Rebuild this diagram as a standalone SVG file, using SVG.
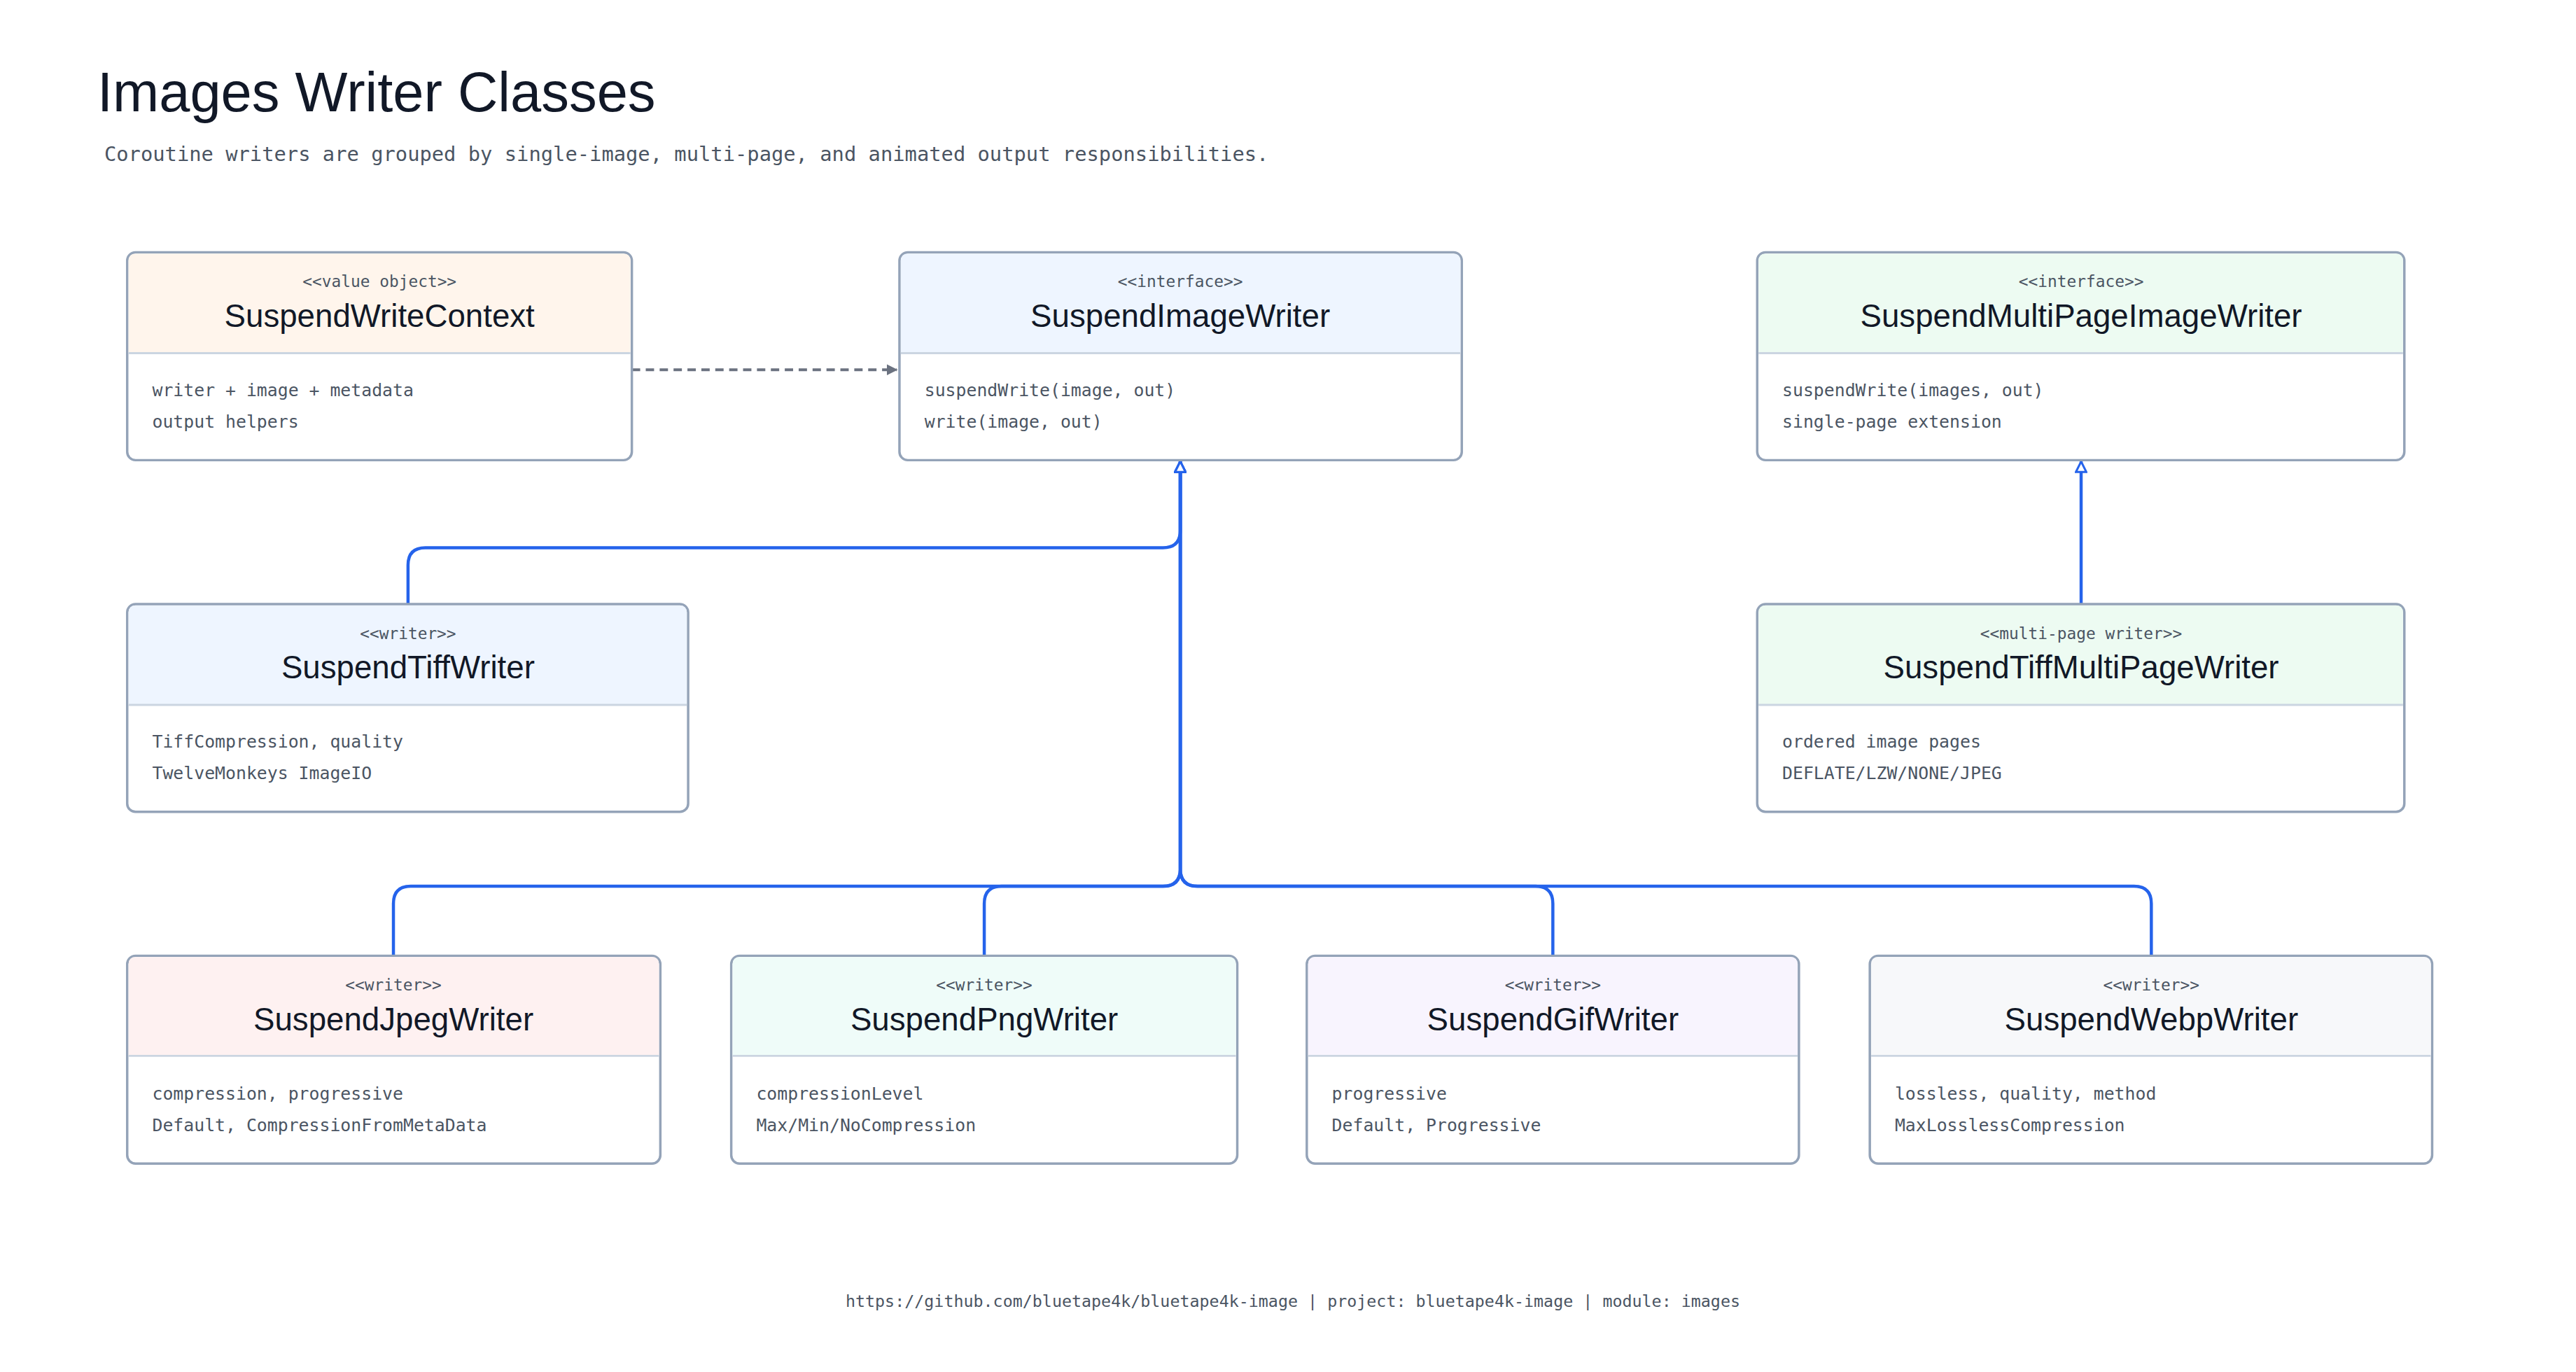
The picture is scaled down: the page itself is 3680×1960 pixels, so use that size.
<svg xmlns="http://www.w3.org/2000/svg" width="3680" height="1960" viewBox="0 0 3680 1960">
<defs>
<style>
.box{stroke:#94a3b8;stroke-width:3.5;fill:#fff}
.div{stroke:#cbd5e1;stroke-width:3}
.st{font-family:"DejaVu Sans Mono","Liberation Mono",monospace;font-size:23px;fill:#4b5563;text-anchor:middle}
.nm{font-family:"Liberation Sans","Open Sans",sans-serif;font-size:46px;fill:#111827;text-anchor:middle}
.bd{font-family:"DejaVu Sans Mono","Liberation Mono",monospace;font-size:25px;fill:#4b5563}
.inh{fill:none;stroke:#2563eb;stroke-width:4.5;marker-end:url(#tri)}
</style>
<marker id="tri" viewBox="0 0 12 12" refX="11" refY="6" markerWidth="18" markerHeight="18" orient="auto" markerUnits="userSpaceOnUse">
<path d="M1,1 L11,6 L1,11 Z" fill="#fff" stroke="#2563eb" stroke-width="2"/>
</marker>
<marker id="dart" viewBox="0 0 10 10" refX="9" refY="5" markerWidth="16" markerHeight="16" orient="auto" markerUnits="userSpaceOnUse">
<path d="M0,0 L10,5 L0,10 Z" fill="#6b7280"/>
</marker>
</defs>
<rect width="3680" height="1960" fill="#fff"/>
<g transform="scale(0.993)">
<text x="140" y="160" font-family="Liberation Sans,sans-serif" font-size="80" fill="#111827">Images Writer Classes</text>
<text x="150" y="232" font-family="DejaVu Sans Mono,Liberation Mono,monospace" font-size="29" fill="#4b5563">Coroutine writers are grouped by single-image, multi-page, and animated output responsibilities.</text>

<g id="connectors">
<path d="M909,532 L1290,532" fill="none" stroke="#6b7280" stroke-width="4" stroke-dasharray="12,8" marker-end="url(#dart)"/>
<path class="inh" d="M587,869 L587,813 Q587,788 612,788 L1673,788 Q1698,788 1698,763 L1698,664"/>
<path class="inh" d="M566,1375 L566,1300 Q566,1275 591,1275 L1673,1275 Q1698,1275 1698,1250 L1698,664"/>
<path class="inh" d="M1416,1375 L1416,1300 Q1416,1275 1441,1275 L1673,1275 Q1698,1275 1698,1250 L1698,664"/>
<path class="inh" d="M2234,1375 L2234,1300 Q2234,1275 2209,1275 L1723,1275 Q1698,1275 1698,1250 L1698,664"/>
<path class="inh" d="M3095,1375 L3095,1300 Q3095,1275 3070,1275 L1723,1275 Q1698,1275 1698,1250 L1698,664"/>
<path class="inh" d="M2994,869 L2994,664"/>
</g>

<g id="SuspendWriteContext">
<rect class="box" x="183" y="363" width="726" height="299" rx="12"/>
<path d="M185,375 Q185,365 195,365 L897,365 Q907,365 907,375 L907,508 L185,508 Z" fill="#fff5ec"/>
<line class="div" x1="185" y1="508" x2="907" y2="508"/>
<text class="st" x="546" y="413">&lt;&lt;value object&gt;&gt;</text>
<text class="nm" x="546" y="470">SuspendWriteContext</text>
<text class="bd" x="219" y="570">writer + image + metadata</text>
<text class="bd" x="219" y="615">output helpers</text>
</g>

<g id="SuspendImageWriter">
<rect class="box" x="1294" y="363" width="809" height="299" rx="12"/>
<path d="M1296,375 Q1296,365 1306,365 L2091,365 Q2101,365 2101,375 L2101,508 L1296,508 Z" fill="#eef5ff"/>
<line class="div" x1="1296" y1="508" x2="2101" y2="508"/>
<text class="st" x="1698" y="413">&lt;&lt;interface&gt;&gt;</text>
<text class="nm" x="1698" y="470">SuspendImageWriter</text>
<text class="bd" x="1330" y="570">suspendWrite(image, out)</text>
<text class="bd" x="1330" y="615">write(image, out)</text>
</g>

<g id="SuspendMultiPageImageWriter">
<rect class="box" x="2528" y="363" width="931" height="299" rx="12"/>
<path d="M2530,375 Q2530,365 2540,365 L3447,365 Q3457,365 3457,375 L3457,508 L2530,508 Z" fill="#edfbf2"/>
<line class="div" x1="2530" y1="508" x2="3457" y2="508"/>
<text class="st" x="2994" y="413">&lt;&lt;interface&gt;&gt;</text>
<text class="nm" x="2994" y="470">SuspendMultiPageImageWriter</text>
<text class="bd" x="2564" y="570">suspendWrite(images, out)</text>
<text class="bd" x="2564" y="615">single-page extension</text>
</g>

<g id="SuspendTiffWriter">
<rect class="box" x="183" y="869" width="807" height="299" rx="12"/>
<path d="M185,881 Q185,871 195,871 L978,871 Q988,871 988,881 L988,1014 L185,1014 Z" fill="#eef5ff"/>
<line class="div" x1="185" y1="1014" x2="988" y2="1014"/>
<text class="st" x="587" y="919">&lt;&lt;writer&gt;&gt;</text>
<text class="nm" x="587" y="976">SuspendTiffWriter</text>
<text class="bd" x="219" y="1076">TiffCompression, quality</text>
<text class="bd" x="219" y="1121">TwelveMonkeys ImageIO</text>
</g>

<g id="SuspendTiffMultiPageWriter">
<rect class="box" x="2528" y="869" width="931" height="299" rx="12"/>
<path d="M2530,881 Q2530,871 2540,871 L3447,871 Q3457,871 3457,881 L3457,1014 L2530,1014 Z" fill="#edfbf2"/>
<line class="div" x1="2530" y1="1014" x2="3457" y2="1014"/>
<text class="st" x="2994" y="919">&lt;&lt;multi-page writer&gt;&gt;</text>
<text class="nm" x="2994" y="976">SuspendTiffMultiPageWriter</text>
<text class="bd" x="2564" y="1076">ordered image pages</text>
<text class="bd" x="2564" y="1121">DEFLATE/LZW/NONE/JPEG</text>
</g>

<g id="SuspendJpegWriter">
<rect class="box" x="183" y="1375" width="767" height="299" rx="12"/>
<path d="M185,1387 Q185,1377 195,1377 L938,1377 Q948,1377 948,1387 L948,1519 L185,1519 Z" fill="#fef1f1"/>
<line class="div" x1="185" y1="1519" x2="948" y2="1519"/>
<text class="st" x="566" y="1425">&lt;&lt;writer&gt;&gt;</text>
<text class="nm" x="566" y="1482">SuspendJpegWriter</text>
<text class="bd" x="219" y="1582">compression, progressive</text>
<text class="bd" x="219" y="1627">Default, CompressionFromMetaData</text>
</g>

<g id="SuspendPngWriter">
<rect class="box" x="1052" y="1375" width="728" height="299" rx="12"/>
<path d="M1054,1387 Q1054,1377 1064,1377 L1768,1377 Q1778,1377 1778,1387 L1778,1519 L1054,1519 Z" fill="#effcf9"/>
<line class="div" x1="1054" y1="1519" x2="1778" y2="1519"/>
<text class="st" x="1416" y="1425">&lt;&lt;writer&gt;&gt;</text>
<text class="nm" x="1416" y="1482">SuspendPngWriter</text>
<text class="bd" x="1088" y="1582">compressionLevel</text>
<text class="bd" x="1088" y="1627">Max/Min/NoCompression</text>
</g>

<g id="SuspendGifWriter">
<rect class="box" x="1880" y="1375" width="708" height="299" rx="12"/>
<path d="M1882,1387 Q1882,1377 1892,1377 L2576,1377 Q2586,1377 2586,1387 L2586,1519 L1882,1519 Z" fill="#f8f4fe"/>
<line class="div" x1="1882" y1="1519" x2="2586" y2="1519"/>
<text class="st" x="2234" y="1425">&lt;&lt;writer&gt;&gt;</text>
<text class="nm" x="2234" y="1482">SuspendGifWriter</text>
<text class="bd" x="1916" y="1582">progressive</text>
<text class="bd" x="1916" y="1627">Default, Progressive</text>
</g>

<g id="SuspendWebpWriter">
<rect class="box" x="2690" y="1375" width="809" height="299" rx="12"/>
<path d="M2692,1387 Q2692,1377 2702,1377 L3487,1377 Q3497,1377 3497,1387 L3497,1519 L2692,1519 Z" fill="#f7f8fa"/>
<line class="div" x1="2692" y1="1519" x2="3497" y2="1519"/>
<text class="st" x="3095" y="1425">&lt;&lt;writer&gt;&gt;</text>
<text class="nm" x="3095" y="1482">SuspendWebpWriter</text>
<text class="bd" x="2726" y="1582">lossless, quality, method</text>
<text class="bd" x="2726" y="1627">MaxLosslessCompression</text>
</g>

<text x="1860" y="1880" text-anchor="middle" font-family="DejaVu Sans Mono,Liberation Mono,monospace" font-size="23.5" fill="#4b5563">https://github.com/bluetape4k/bluetape4k-image | project: bluetape4k-image | module: images</text>
</g>
</svg>
